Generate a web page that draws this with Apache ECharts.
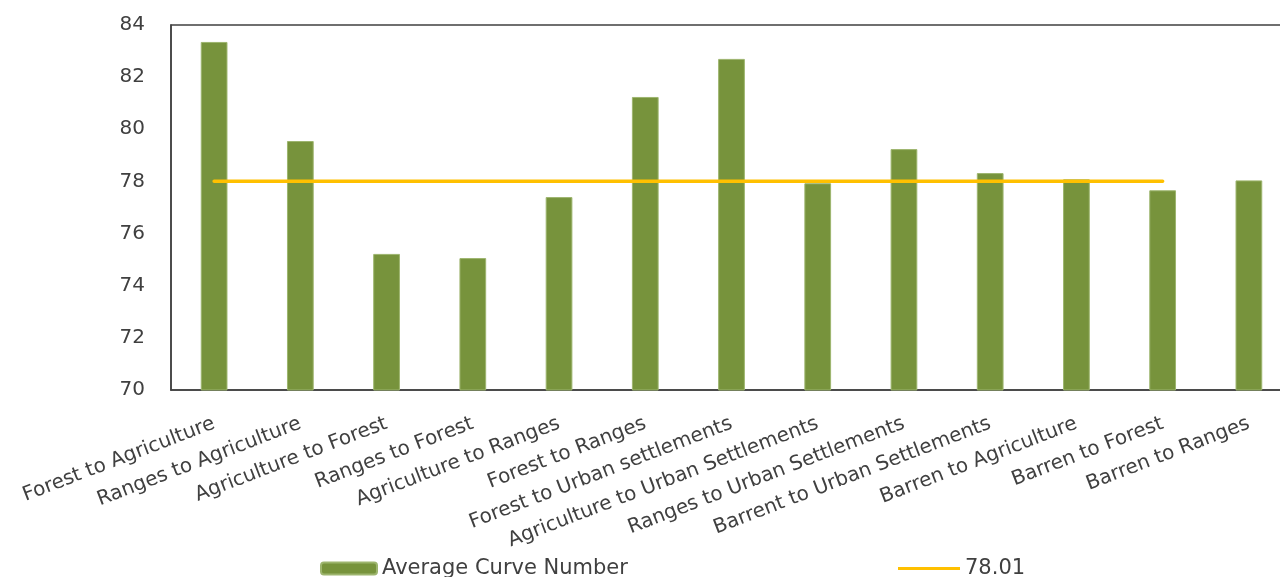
<!DOCTYPE html>
<html>
<head>
<meta charset="utf-8">
<script src="https://cdn.jsdelivr.net/npm/echarts@6/dist/echarts.min.js"></script>
<style>
  html, body { margin: 0; padding: 0; background: #fff; overflow: hidden; }
  #chart { width: 1292px; height: 577px; }
</style>
</head>
<body>
<div id="chart"></div>
<script>
'use strict';

var categories = ['Forest to Agriculture', 'Ranges to Agriculture', 'Agriculture to Forest',
  'Ranges to Forest', 'Agriculture to Ranges', 'Forest to Ranges', 'Forest to Urban settlements',
  'Agriculture to Urban Settlements', 'Ranges to Urban Settlements', 'Barrent to Urban Settlements',
  'Barren to Agriculture', 'Barren to Forest', 'Barren to Ranges'];
var curveNumber = [83.35, 79.55, 75.22, 75.06, 77.40, 81.24, 82.70, 77.93, 79.24, 78.32, 78.08, 77.66, 78.04];
var meanLine = [78.01, 78.01, 78.01, 78.01, 78.01, 78.01, 78.01, 78.01, 78.01, 78.01, 78.01, 78.01, null];
var yTicks = { min: 70, max: 84, step: 2 };

var textColor = '#404040';
var font = 'DejaVu Sans';

// plot runs past the right edge of the picture, like the original
var myChart = echarts.init(document.getElementById('chart'));
var option = {
  backgroundColor: '#fff',
  animation: false,
  textStyle: { fontFamily: font },
  grid: {
    left: 171,
    top: 25,
    bottom: 187,
    right: 0,
    show: true,
    borderColor: '#404040',
    borderWidth: 1.5
  },
  legend: [{
    data: ['Average Curve Number'],
    left: 320,
    top: 558,
    padding: 0,
    itemWidth: 56,
    itemHeight: 12,
    textStyle: { fontFamily: font, fontSize: 21, color: textColor }
  }, {
    data: [{ name: '78.01', icon: 'rect' }],
    left: 898,
    top: 558,
    padding: 0,
    itemWidth: 62,
    itemHeight: 3,
    textStyle: { fontFamily: font, fontSize: 21, color: textColor }
  }],
  xAxis: {
    type: 'category',
    data: categories,
    axisLine: { lineStyle: { color: '#404040', width: 1.5 } },
    axisTick: { show: false },
    axisLabel: {
      interval: 0,
      rotate: 21,
      margin: 33,
      fontFamily: font,
      fontSize: 20,
      color: textColor
    }
  },
  yAxis: {
    type: 'value',
    min: yTicks.min,
    max: yTicks.max,
    interval: yTicks.step,
    axisLine: { show: true, lineStyle: { color: '#404040', width: 1.5 } },
    splitLine: { show: false },
    axisTick: { show: false },
    axisLabel: { margin: 26, fontFamily: font, fontSize: 20, color: textColor }
  },
  series: [{
    name: 'Average Curve Number',
    type: 'bar',
    data: curveNumber,
    barWidth: '31%',
    itemStyle: { color: '#77933C', borderColor: '#9db56e', borderWidth: 1 }
  }, {
    name: '78.01',
    type: 'line',
    data: meanLine,
    symbol: 'none',
    lineStyle: { color: '#FFC000', width: 3.5, cap: 'round' },
    itemStyle: { color: '#FFC000' }
  }]
};
myChart.setOption(option);
</script>
</body>
</html>
